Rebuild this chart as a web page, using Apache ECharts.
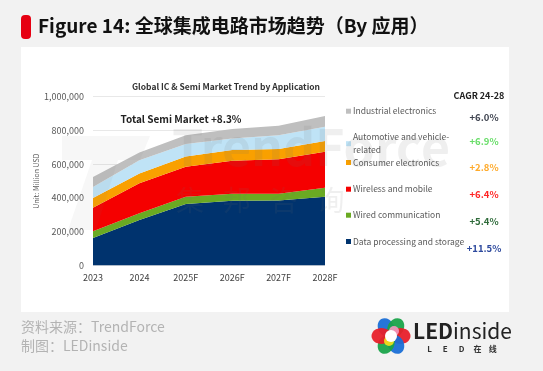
<!DOCTYPE html>
<html><head><meta charset="utf-8">
<script src="https://cdn.jsdelivr.net/npm/echarts@6/dist/echarts.min.js"></script>
<style>html,body{margin:0;padding:0;background:#f2f2f2}#c{width:543px;height:371px}</style>
</head><body><div id="c"></div>
<script>
var years = ['2023','2024','2025F','2026F','2027F','2028F'];
var dataProcessing = [163000, 270000, 365000, 383000, 385000, 407000];
var wiredComm      = [40000, 40000, 43000, 42000, 40000, 53000];
var wirelessMobile = [139000, 178000, 177000, 195000, 205000, 214000];
var consumerElec   = [58000, 57000, 60000, 64000, 60000, 63000];
var automotive     = [65000, 78000, 75000, 69000, 82000, 85000];
var industrial     = [59000, 47000, 52000, 55000, 56000, 63000];
var seriesNames = ['Data processing and storage','Wired communication','Wireless and mobile','Consumer electronics','Automotive and vehicle-related','Industrial electronics'];
var legendLabels = ['Data processing and storage','Wired communication','Wireless and mobile','Consumer electronics','Automotive and vehicle-\nrelated','Industrial electronics'];
var cagrLabels = ['+11.5%','+5.4%','+6.4%','+2.8%','+6.9%','+6.0%'];
var yTicks = [0, 200000, 400000, 600000, 800000, 1000000];

var colors = ['#00336e','#6aaa22','#f50000','#f9a000','#bfe3f6','#bfbfbf'];
var cagrColors = ['#2e4a9e','#2f6b3a','#ff2222','#ffaa2a','#66dd66','#3f4450'];
var allSeries = [dataProcessing, wiredComm, wirelessMobile, consumerElec, automotive, industrial];
var FONT = '"Noto Sans CJK SC","Noto Sans",sans-serif';

var chart = echarts.init(document.getElementById('c'), null, {renderer:'canvas'});

var series = allSeries.map(function(d, i){
  return {
    name: seriesNames[i], type:'line', stack:'total', data:d,
    symbol:'none', lineStyle:{width:0}, areaStyle:{color:colors[i], opacity:1},
    itemStyle:{color:colors[i]}, z:2
  };
});

var legendY = [241, 214.7, 188.7, 162, 136.7, 110.7];
var legends = seriesNames.map(function(n, i){
  return {
    data:[n], orient:'vertical', left:346, top:legendY[i]-6, icon:'rect',
    itemWidth:5, itemHeight:5, itemGap:0, padding:0, selectedMode:false,
    formatter:function(){ return legendLabels[i]; },
    textStyle:{color:'#595959', fontSize:8.5, fontFamily:FONT, lineHeight:13, padding:[0,0,0,-3]}
  };
});

var cagrY = [248, 221, 194, 167, 141, 117];
var WM = 'rgba(110,110,110,0.11)';
var graphics = [
  {type:'rect', shape:{x:21,y:47,width:488,height:265}, style:{fill:'#ffffff'}, z:-10, silent:true},
  {type:'rect', shape:{x:21,y:15,width:10,height:24,r:4}, style:{fill:'#e60012'}},
  {type:'text', left:38, top:16, style:{text:'Figure 14: 全球集成电路市场趋势（By 应用）', fill:'#111', font:'bold 19px '+FONT}},
  {type:'text', x:226, y:87, style:{text:'Global IC & Semi Market Trend by Application', fill:'#333', font:'bold 8.5px '+FONT, textAlign:'center', textVerticalAlign:'middle'}},
  {type:'text', x:181, y:119, style:{text:'Total Semi Market +8.3%', fill:'#222', font:'bold 10px '+FONT, textAlign:'center', textVerticalAlign:'middle'}, z:10},
  {type:'text', x:479, y:96, style:{text:'CAGR 24-28', fill:'#222', font:'bold 9px '+FONT, textAlign:'center', textVerticalAlign:'middle'}},
  // watermark
  {type:'polygon', shape:{points:[[62,136],[150,136],[140,160],[118,160],[96,230],[68,230],[92,160],[62,160]]}, style:{fill:'rgba(120,120,120,0.06)'}, z:20, silent:true},
  {type:'text', x:172, y:172, style:{text:'TrendForce', fill:WM, font:'bold 50px '+FONT, textVerticalAlign:'bottom'}, z:20, silent:true},
  {type:'text', x:176, y:200, style:{text:'集   邦   咨   询', fill:WM, font:'28px '+FONT, textVerticalAlign:'middle'}, z:20, silent:true},
  // footer
  {type:'text', left:21, top:320, style:{text:'资料来源：TrendForce', fill:'#b3b3b3', font:'14px '+FONT}},
  {type:'text', left:21, top:339, style:{text:'制图：LEDinside', fill:'#b3b3b3', font:'14px '+FONT}},
  {type:'text', x:413, y:331, style:{rich:{a:{font:'bold 21px '+FONT, fill:'#222'}, b:{font:'21px '+FONT, fill:'#222'}}, text:'{a|LED}{b|inside}', textVerticalAlign:'middle'}},
  {type:'text', x:462, y:349, style:{text:'L      E      D     在    线', fill:'#333', font:'bold 8px '+FONT, textAlign:'center', textVerticalAlign:'middle'}}
];
cagrLabels.forEach(function(t, i){
  graphics.push({type:'text', x:484, y:cagrY[i], style:{text:t, fill:cagrColors[i], font:'bold 9.5px '+FONT, textAlign:'center', textVerticalAlign:'middle'}});
});
var petals = [
  {a:-120, c:'#1a6fd6'}, {a:-60, c:'#1aa34a'}, {a:0, c:'#e8202a'},
  {a:60, c:'#1a6fd6'}, {a:120, c:'#1aa34a'}, {a:180, c:'#e8202a'}
];
petals.forEach(function(p){
  var r = p.a*Math.PI/180;
  graphics.push({type:'ellipse', shape:{cx:0, cy:0, rx:10, ry:8}, x:391+Math.cos(r)*9.5, y:336+Math.sin(r)*9.5, rotation:-r, style:{fill:p.c, opacity:0.95}});
});
graphics.push({type:'circle', shape:{cx:389, cy:341, r:5}, style:{fill:'#f6e21c', opacity:0.9}});
graphics.push({type:'circle', shape:{cx:394, cy:331, r:5}, style:{fill:'#f49ac1', opacity:0.9}});
graphics.push({type:'circle', shape:{cx:391, cy:336, r:6}, style:{fill:'#ffffff'}});

chart.setOption({
  animation:false,
  backgroundColor:'transparent',
  textStyle:{fontFamily:FONT},
  legend: legends,
  grid:{left:93, right:218, top:96.7, bottom:105.5, containLabel:false},
  xAxis:{type:'category', data:years, boundaryGap:false,
    axisLine:{show:false}, axisTick:{show:false},
    axisLabel:{color:'#404040', fontSize:9, margin:8, fontFamily:FONT, interval:0}},
  yAxis:{type:'value', min:0, max:1000000, interval:200000,
    name:'Unit: Million USD', nameLocation:'middle', nameRotate:90, nameGap:42,
    nameTextStyle:{color:'#595959', fontSize:7, fontFamily:FONT},
    axisLine:{show:false}, axisTick:{show:false},
    axisLabel:{color:'#595959', fontSize:9, margin:9, fontFamily:FONT,
      formatter:function(v){ return v.toLocaleString('en-US'); }},
    splitLine:{lineStyle:{color:'#e8e8e8', width:1}}},
  series: series,
  graphic: graphics
});
</script></body></html>
